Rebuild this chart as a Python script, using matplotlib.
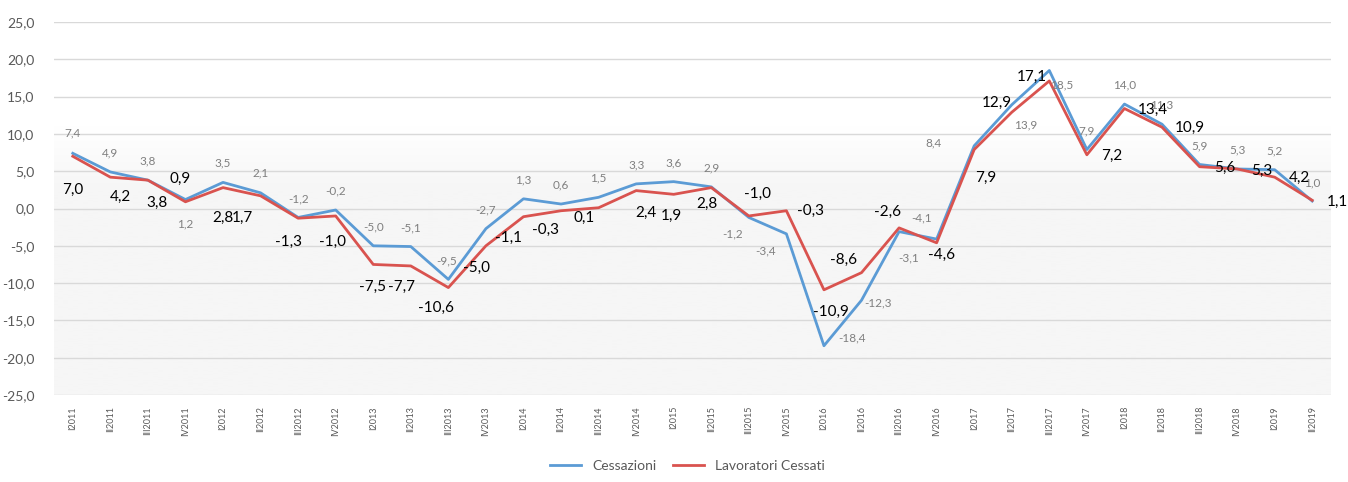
import numpy as np
import matplotlib
matplotlib.use("Agg")
import matplotlib.pyplot as plt
from matplotlib.colors import LinearSegmentedColormap

plt.rcParams['font.family'] = ['Lato', 'DejaVu Sans']

quarters = ["I2011", "II2011", "III2011", "IV2011", "I2012", "II2012", "III2012", "IV2012",
            "I2013", "II2013", "III2013", "IV2013", "I2014", "II2014", "III2014", "IV2014",
            "I2015", "II2015", "III2015", "IV2015", "I2016", "II2016", "III2016", "IV2016",
            "I2017", "II2017", "III2017", "IV2017", "I2018", "II2018", "III2018", "IV2018",
            "I2019", "II2019"]
cessazioni = [7.4, 4.9, 3.8, 1.2, 3.5, 2.1, -1.2, -0.2, -5.0, -5.1, -9.5, -2.7,
              1.3, 0.6, 1.5, 3.3, 3.6, 2.9, -1.2, -3.4, -18.4, -12.3, -3.1, -4.1,
              8.4, 13.9, 18.5, 7.9, 14.0, 11.3, 5.9, 5.3, 5.2, 1.0]
lavoratori = [7.0, 4.2, 3.8, 0.9, 2.8, 1.7, -1.3, -1.0, -7.5, -7.7, -10.6, -5.0,
              -1.1, -0.3, 0.1, 2.4, 1.9, 2.8, -1.0, -0.3, -10.9, -8.6, -2.6, -4.6,
              7.9, 12.9, 17.1, 7.2, 13.4, 10.9, 5.6, 5.3, 4.2, 1.1]
y_ticks = [25, 20, 15, 10, 5, 0, -5, -10, -15, -20, -25]

# label offsets in pixels (dx, dy) - styling only
off_c = [(0, 20), (0, 19), (0, 19), (0, -24), (0, 19), (0, 20), (0, 19), (0, 19),
         (0, 19), (0, 19), (-2, 18), (0, 19), (0, 19), (0, 19), (0, 19), (0, 19),
         (0, 19), (0, 19), (-16, -16), (-21, -17), (28, 8), (17, -3), (10, -26), (-15, 21),
         (-41, 3), (14, -20), (12, -14), (0, 19), (0, 19), (0, 19), (0, 19), (0, 19),
         (0, 19), (0, 18)]
off_l = [(0, -34), (10, -20), (9, -23), (-5, 23), (0, -30), (-18, -22), (-10, -24), (-3, -26),
         (-1, -22), (-9, -21), (-12, -20), (-9, -22), (-15, -21), (-16, -19), (-14, -10), (10, -22),
         (-2, -22), (-4, -16), (9, 22), (24, 0), (7, -22), (-18, 13), (-12, 16), (5, -12),
         (12, -28), (-15, 9), (-17, 4), (25, -1), (28, -1), (28, -1), (25, -1), (25, -2),
         (25, -1), (25, -2)]

W, H = 1348, 482
fig = plt.figure(figsize=(W / 100, H / 100), dpi=100)
ax = fig.add_axes([54 / W, 1 - 395 / H, (1331 - 54) / W, (395 - 22) / H])

x = np.arange(len(quarters))
ax.set_xlim(-0.5, len(quarters) - 0.5)
ax.set_ylim(-25, 25)

# background gradient
cmap = LinearSegmentedColormap.from_list("bg", ["#ffffff", "#ffffff", "#f6f6f6", "#f6f6f6"])
grad = np.linspace(1, 0, 256).reshape(-1, 1)
ax.imshow(grad, extent=(-0.5, len(quarters) - 0.5, -25, 25), aspect='auto',
          cmap=LinearSegmentedColormap.from_list("bg2", [(0, "#f6f6f6"), (0.55, "#f6f6f6"), (0.72, "#ffffff"), (1, "#ffffff")]),
          zorder=0, interpolation='bilinear')

ax.set_yticks(y_ticks)
ax.set_yticklabels([f"{v:.1f}".replace(".", ",") for v in y_ticks], fontsize=10, color="#595959")
ax.grid(axis='y', color="#d9d9d9", linewidth=1, zorder=1)
ax.set_xticks(x)
ax.set_xticklabels(quarters, rotation=90, fontsize=6.5, color="#595959")
ax.tick_params(axis='both', length=0)
ax.tick_params(axis='y', pad=14)
ax.tick_params(axis='x', pad=8)
for s in ax.spines.values():
    s.set_visible(False)

ax.plot(x, cessazioni, color="#5b9bd5", linewidth=2.0, label="Cessazioni", zorder=3)
ax.plot(x, lavoratori, color="#d9534f", linewidth=2.0, label="Lavoratori Cessati", zorder=4)

def fmt(v):
    return f"{v:.1f}".replace(".", ",")

for i, v in enumerate(cessazioni):
    ax.annotate(fmt(v), (x[i], v), xytext=off_c[i], textcoords='offset pixels',
                ha='center', va='center', fontsize=8.5, color="#7f7f7f", zorder=5)
for i, v in enumerate(lavoratori):
    ax.annotate(fmt(v), (x[i], v), xytext=off_l[i], textcoords='offset pixels',
                ha='center', va='center', fontsize=11, color="#000000", zorder=6,
                annotation_clip=False)

fig.legend(loc='lower center', bbox_to_anchor=(0.51, -0.005), ncol=2, frameon=False,
           fontsize=10, labelcolor="#595959", handlelength=2.2, columnspacing=1.2)

fig.savefig("out.png", dpi=100)
